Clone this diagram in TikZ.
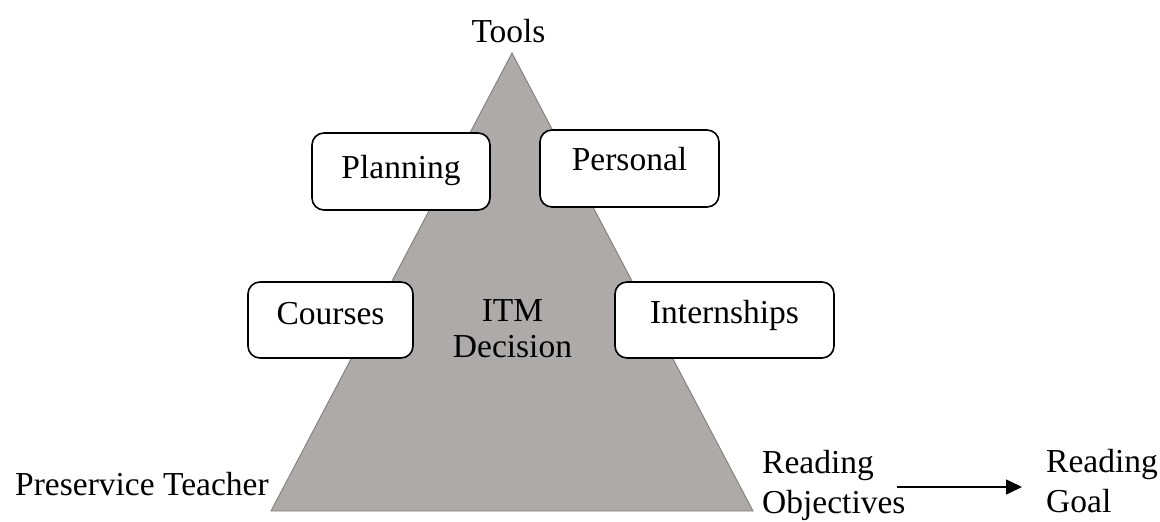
\documentclass[tikz,border=0pt]{standalone}
\usepackage{fontspec}
\setmainfont{Liberation Serif}
\usetikzlibrary{arrows.meta}
\definecolor{trifill}{RGB}{174,170,170}
\definecolor{triedge}{RGB}{130,126,126}
\tikzset{
  txt/.style={inner sep=0pt, font=\fontsize{33.5}{40}\selectfont},
  tbox/.style={draw=black, fill=white, line width=1.6pt, rounded corners=12pt,
    inner sep=0pt, font=\fontsize{33.5}{40}\selectfont, text height=22pt},
  arr/.style={line width=1.5pt, -{Triangle[length=16pt,width=15pt]}}
}
\begin{document}
\begin{tikzpicture}[x=1pt,y=-1pt]
\fill[white] (0,0) rectangle (1160,518);
% pyramid
\filldraw[fill=trifill, draw=triedge, line width=0.9pt] (512,53) -- (753,511) -- (271,511) -- cycle;
% labels
\node[txt, anchor=base] (tools) at (508.5,42) {Tools};
\node[txt, anchor=base west] (pt) at (15,495) {Preservice Teacher};
\node[txt, anchor=north, align=center, font=\fontsize{33.5}{36}\selectfont] (itm) at (512.5,299.5) {ITM\\Decision};
\node[txt, anchor=north west, align=left] (ro) at (762,450.5) {Reading\\Objectives};
\node[txt, anchor=north west, align=left] (rg) at (1046,449.5) {Reading\\Goal};
% boxes
\node[tbox, minimum width=178pt, minimum height=77pt, text depth=9pt] (plan) at (401,171.5) {Planning};
\node[tbox, minimum width=179pt, minimum height=77pt, text depth=19pt] (pers) at (629.5,168.5) {Personal};
\node[tbox, minimum width=165pt, minimum height=76pt, text depth=14pt] (cour) at (330.5,320) {Courses};
\node[tbox, minimum width=219pt, minimum height=76pt, text depth=16pt] (intern) at (724.5,320) {Internships};
% arrow
\coordinate (arrs) at (897,487);
\draw[arr] (arrs) -- ([xshift=-24pt]arrs -| rg.west);
\end{tikzpicture}
\end{document}
